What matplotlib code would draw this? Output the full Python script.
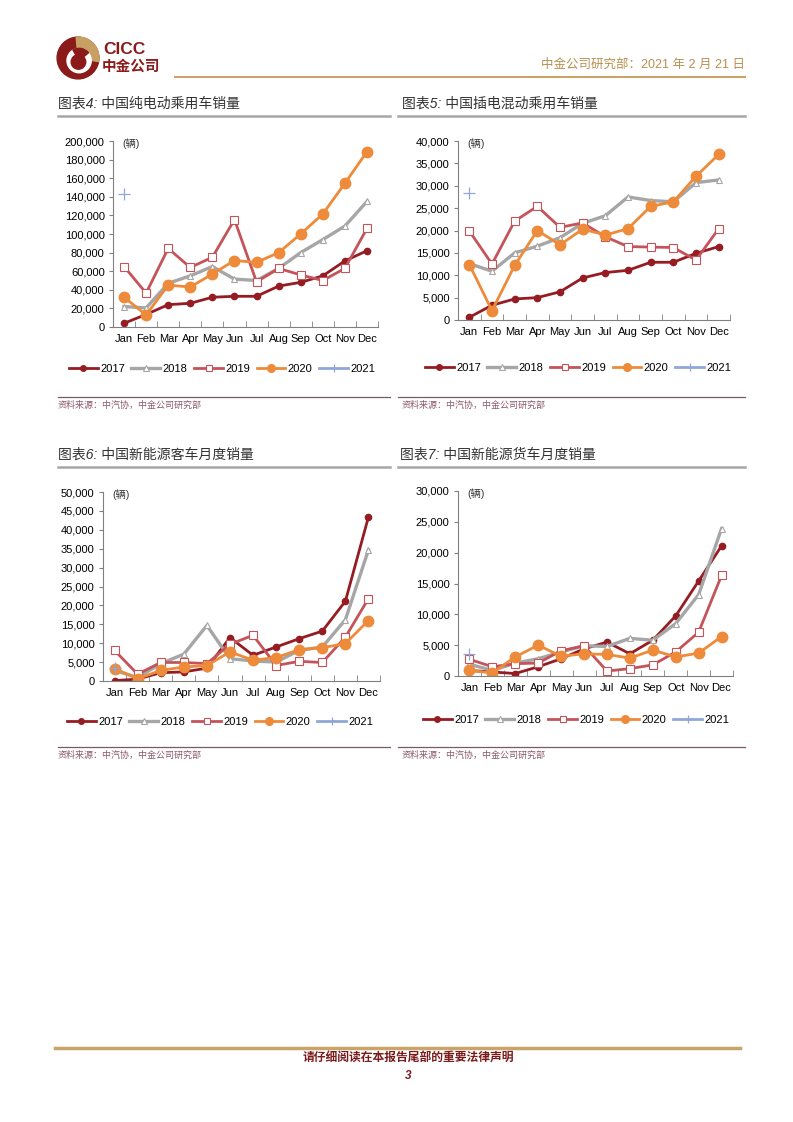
import numpy as np
import matplotlib.pyplot as plt
from matplotlib.patches import Circle, Wedge
from matplotlib.lines import Line2D

plt.rcParams['font.family'] = ['Liberation Sans', 'Noto Sans CJK SC', 'DejaVu Sans']
CJK = ['Noto Sans CJK SC', 'DejaVu Sans']

W, H = 793, 1122

months = ['Jan', 'Feb', 'Mar', 'Apr', 'May', 'Jun',
          'Jul', 'Aug', 'Sep', 'Oct', 'Nov', 'Dec']
years = ['2017', '2018', '2019', '2020', '2021']

# 图表4: 纯电动乘用车 (辆)
bev_2017 = [4000, 13500, 24000, 25500, 32000, 33000, 33000, 44000, 48000, 55000, 71000, 82000]
bev_2018 = [22000, 20500, 47000, 55000, 65000, 51500, 50000, 63000, 80000, 94000, 108500, 135000]
bev_2019 = [65000, 36500, 84500, 64000, 75000, 115500, 48500, 63000, 56000, 50000, 63000, 106000]
bev_2020 = [32000, 13000, 45000, 43000, 57000, 71500, 69500, 80000, 100000, 121500, 154500, 188500]
bev_2021 = [143500]

# 图表5: 插电混动乘用车 (辆)
phev_2017 = [600, 3300, 4700, 5000, 6300, 9400, 10600, 11100, 12900, 12900, 14900, 16400]
phev_2018 = [12600, 10900, 15000, 16500, 18400, 21600, 23300, 27500, 26700, 26400, 30700, 31300]
phev_2019 = [19900, 12500, 22100, 25400, 20700, 21700, 18600, 16400, 16300, 16200, 13400, 20400]
phev_2020 = [12400, 2100, 12200, 20000, 16800, 20300, 19000, 20400, 25400, 26400, 32100, 37000]
phev_2021 = [28300]

# 图表6: 新能源客车 (辆)
bus_2017 = [100, 500, 2200, 2400, 3400, 11500, 6800, 9000, 11200, 13200, 21100, 43400]
bus_2018 = [2800, 900, 4600, 7100, 14700, 5900, 5300, 5000, 8100, 9000, 16200, 34700]
bus_2019 = [8100, 1800, 4900, 4900, 4600, 9700, 12100, 4100, 5200, 4900, 11600, 21800]
bus_2020 = [3300, 600, 2800, 3700, 4100, 7700, 5500, 6200, 8300, 8800, 9900, 16000]
bus_2021 = [3500]

# 图表7: 新能源货车 (辆)
truck_2017 = [900, 650, 400, 1500, 2800, 4400, 5500, 3600, 5800, 9750, 15400, 21100]
truck_2018 = [1900, 900, 2100, 2800, 3900, 4900, 4800, 6100, 5800, 8500, 13200, 23900]
truck_2019 = [2700, 1500, 2000, 2100, 4100, 4900, 800, 1200, 1800, 3900, 7100, 16300]
truck_2020 = [900, 500, 3100, 5000, 3200, 3600, 3500, 2900, 4200, 3100, 3700, 6400]
truck_2021 = [3500]

styles = {
    '2017': dict(color='#951c22', lw=2.0, marker='o', ms=4.5, mfc='#951c22', mec='#951c22'),
    '2018': dict(color='#a6a6a6', lw=2.4, marker='^', ms=5, mfc='white', mec='#a6a6a6', mew=0.8),
    '2019': dict(color='#c4545a', lw=2.0, marker='s', ms=5.5, mfc='white', mec='#c4545a', mew=0.8),
    '2020': dict(color='#ed8b3a', lw=2.0, marker='o', ms=7.5, mfc='#ed8b3a', mec='#ed8b3a'),
    '2021': dict(color='#8fa8d8', lw=2.0, marker='+', ms=8, mfc='#8fa8d8', mec='#8fa8d8', mew=0.9),
}
legend_ms = {'2017': 4, '2018': 4.5, '2019': 5, '2020': 5.5, '2021': 6}


def fx(px):
    return px / W


def fy(py):
    return 1 - py / H


def draw_panel(fig, box, series, ymax, ystep, legend_xy):
    left, top, right, bottom = box
    ax = fig.add_axes([fx(left), fy(bottom), fx(right) - fx(left), fy(top) - fy(bottom)])
    x = np.arange(len(months))
    for yr, vals in zip(years, series):
        ax.plot(x[:len(vals)], vals, **styles[yr])
    ax.set_xlim(-0.5, 11.5)
    ax.set_ylim(0, ymax)
    ax.set_yticks(np.arange(0, ymax + 1, ystep))
    ax.set_yticklabels([f'{v:,}' for v in np.arange(0, ymax + 1, ystep)])
    ax.set_xticks(x)
    ax.set_xticklabels(months)
    ax.set_xticks(np.arange(-0.5, 12, 1), minor=True)
    ax.tick_params(axis='x', which='major', length=0, labelsize=8, pad=5)
    ax.tick_params(axis='x', which='minor', length=4, direction='in', color='#808080')
    ax.tick_params(axis='y', length=3, direction='out', color='#808080', labelsize=8, pad=3)
    for s in ['top', 'right']:
        ax.spines[s].set_visible(False)
    for s in ['left', 'bottom']:
        ax.spines[s].set_color('#808080')
        ax.spines[s].set_linewidth(0.8)
    ax.text(0.035, 0.985, '(辆)', transform=ax.transAxes, fontsize=7.5,
            va='center', ha='left', color='#333333')

    handles = []
    for yr in years:
        st = dict(styles[yr])
        st['ms'] = legend_ms[yr]
        handles.append(Line2D([], [], **st))
    fig.legend(handles, years, loc='center', bbox_to_anchor=(fx(legend_xy[0]), fy(legend_xy[1])),
               ncol=5, frameon=False, fontsize=8, handlelength=2.6, columnspacing=0.6,
               handletextpad=0.2, borderaxespad=0)
    return ax


fig = plt.figure(figsize=(W / 100, H / 100), dpi=100)

# header logo
logo = fig.add_axes([fx(56), fy(80), fx(44), 44 / H])
logo.set_xlim(-1, 1)
logo.set_ylim(-1, 1)
logo.set_aspect('equal')
logo.axis('off')
logo.add_patch(Circle((0, 0), 0.95, color='#8b1a1a'))
logo.add_patch(Wedge((0, 0), 0.95, -10, 95, color='#c9a063'))
logo.add_patch(Circle((0.05, -0.12), 0.55, color='white'))
logo.add_patch(Circle((0.02, -0.18), 0.33, color='#8b1a1a'))
logo.add_patch(Wedge((0.05, -0.12), 0.56, 40, 120, color='#8b1a1a'))

fig.text(fx(103), fy(50), 'CICC', fontsize=12.5, fontweight='bold', color='#8b1a1a',
         va='center', ha='left')
fig.text(fx(102), fy(66), '中金公司', fontsize=10.5, fontweight='bold', color='#8b1a1a',
         va='center', ha='left', family=CJK)
fig.text(fx(745), fy(65), '中金公司研究部：2021 年 2 月 21 日', fontsize=9, color='#b8904f',
         va='center', ha='right')
fig.add_artist(Line2D([fx(175), fx(745)], [fy(77), fy(77)], color='#c8a46a', lw=1.5))

# panel titles and rules
titles = [
    (58, 104, 58, 390, '图表4: 中国纯电动乘用车销量'),
    (402, 104, 398, 745, '图表5: 中国插电混动乘用车销量'),
    (58, 455, 58, 390, '图表6: 中国新能源客车月度销量'),
    (400, 455, 398, 745, '图表7: 中国新能源货车月度销量'),
]
for tx, ty, x0, x1, t in titles:
    fig.text(fx(tx), fy(ty), t, fontsize=10, color='#333333', va='center', ha='left',
             style='italic')
    fig.add_artist(Line2D([fx(x0), fx(x1)], [fy(ty + 12), fy(ty + 12)], color='#a6a6a6', lw=1.8))

sources = [(58, 397, 390), (402, 397, 745), (58, 747, 390), (402, 747, 745)]
for sx, sy, x1 in sources:
    x0 = sx if sx < 100 else 398
    fig.add_artist(Line2D([fx(x0), fx(x1)], [fy(sy), fy(sy)], color='#7a5a68', lw=0.9))
    fig.text(fx(sx), fy(sy + 8), '资料来源：中汽协，中金公司研究部', fontsize=6.5,
             color='#8a5a6a', va='center', ha='left', style='italic')

draw_panel(fig, (113, 141, 378, 327), [bev_2017, bev_2018, bev_2019, bev_2020, bev_2021],
           200000, 20000, (222, 369))
draw_panel(fig, (458, 141, 730, 320), [phev_2017, phev_2018, phev_2019, phev_2020, phev_2021],
           40000, 5000, (578, 368))
draw_panel(fig, (103, 492, 380, 681), [bus_2017, bus_2018, bus_2019, bus_2020, bus_2021],
           50000, 5000, (220, 722))
draw_panel(fig, (458, 491, 733, 676), [truck_2017, truck_2018, truck_2019, truck_2020, truck_2021],
           30000, 5000, (576, 720))

# footer
fig.add_artist(Line2D([fx(55), fx(740)], [fy(1048), fy(1048)], color='#c8a46a', lw=2.5))
fig.text(fx(408), fy(1059), '请仔细阅读在本报告尾部的重要法律声明', fontsize=8.5,
         fontweight='bold', color='#7a1a1a', va='center', ha='center', style='italic')
fig.text(fx(408), fy(1076), '3', fontsize=8.5, fontweight='bold', color='#7a1a1a',
         va='center', ha='center', style='italic')

fig.savefig('out.png', dpi=100)
